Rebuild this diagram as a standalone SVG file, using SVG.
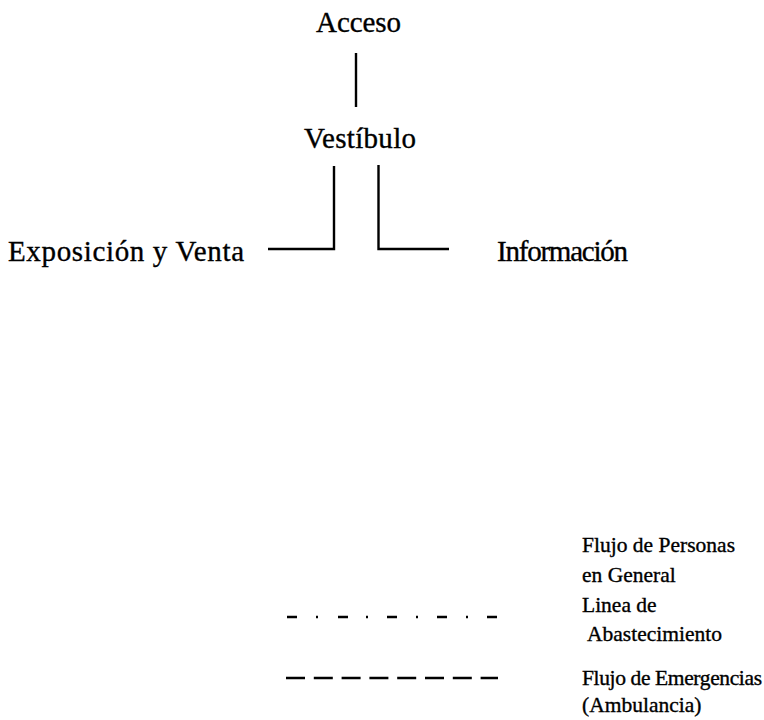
<svg xmlns="http://www.w3.org/2000/svg" width="764" height="720" viewBox="0 0 764 720">
<style>
text{font-family:"Liberation Serif","Times New Roman",serif;fill:#000;stroke:#000;stroke-width:0.35}
.n{font-size:29px}
.l{font-size:21.5px}
.c{stroke:#000;stroke-width:2.4;fill:none}
.lg{stroke:#000;stroke-width:2.4;fill:none}
</style>
<rect width="764" height="720" fill="#fff"/>
<g id="acceso"><text class="n" x="316" y="32" textLength="85">Acceso</text></g>
<g id="vestibulo"><text class="n" x="304" y="148" textLength="112">Vestíbulo</text></g>
<g id="exposicion"><text class="n" x="8" y="261" textLength="236">Exposición y Venta</text></g>
<g id="informacion"><text class="n" x="497" y="261" textLength="131">Información</text></g>
<g id="connectors">
<path class="c" d="M356 53V107"/>
<path class="c" d="M334 166V249H268"/>
<path class="c" d="M378.5 165V249H449"/>
</g>
<g id="legend">
<text class="l" x="582" y="552" textLength="153">Flujo de Personas</text>
<text class="l" x="582" y="582">en General</text>
<path class="lg" d="M287 617h10M316 617h2M338 617h10M366 617h2M387 617h10M416 617h2M437 617h10M466 617h2M487 617h10"/>
<text class="l" x="582" y="612">Linea de</text>
<text class="l" x="587" y="641">Abastecimiento</text>
<path class="lg" d="M286 678H498" stroke-dasharray="19 8.8" stroke-width="2"/>
<text class="l" x="582" y="685" textLength="180">Flujo de Emergencias</text>
<text class="l" x="582" y="712">(Ambulancia)</text>
</g>
</svg>
